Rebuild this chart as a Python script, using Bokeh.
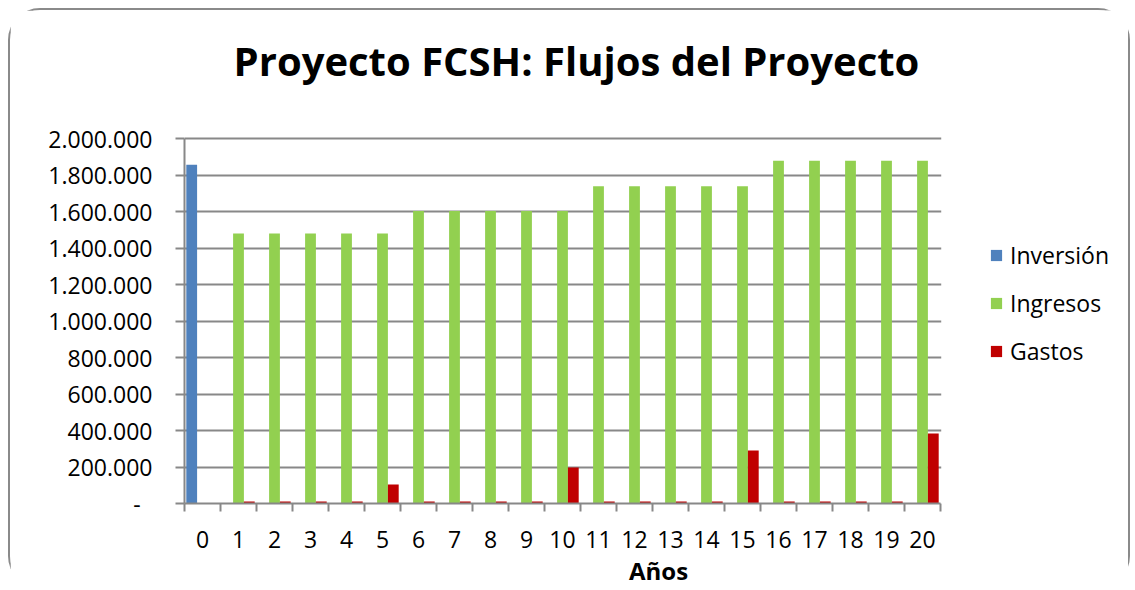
from bokeh.plotting import figure
from bokeh.models import (ColumnDataSource, FixedTicker, Legend, LegendItem, Range1d,
                          BoxAnnotation, Label)
from bokeh.transform import dodge
from bokeh.embed import file_html
from bokeh.resources import INLINE

# ---- data ----
years = list(range(21))
year_labels = [str(y) for y in years]
inversion = [1856000] + [0] * 20
ingresos = [0] + [1479000] * 5 + [1603000] * 5 + [1738000] * 5 + [1878000] * 5
gastos = [0, 10800, 10800, 10800, 10800, 104000,
          10800, 10800, 10800, 10800, 197000,
          10800, 10800, 10800, 10800, 290000,
          10800, 10800, 10800, 10800, 383000]
series_names = ["Inversión", "Ingresos", "Gastos"]
series_colors = ["#4f81bd", "#92d050", "#c00000"]
y_ticks = [0, 200000, 400000, 600000, 800000, 1000000, 1200000,
           1400000, 1600000, 1800000, 2000000]
y_tick_labels = ["-\u00a0\u00a0", "200.000", "400.000", "600.000", "800.000",
                 "1.000.000", "1.200.000", "1.400.000", "1.600.000",
                 "1.800.000", "2.000.000"]
title_text = "Proyecto FCSH: Flujos del Proyecto"
x_title = "Años"

src = ColumnDataSource(dict(year=years, inv=inversion, ing=ingresos, gas=gastos))

FONT = "Open Sans"
GRID = "#888888"

W, H = 1122, 580
LEFT, RIGHT_AREA, TOP_AREA, BOTTOM = 174, 192, 128, 87
y_lo, y_hi = 0, 2000000
x_lo = years[0] - 0.5
x_hi = years[-1] + 0.5
# the frame is extended to the canvas right / top edges so that the legend
# and title can live inside it; data occupy only the plot-area part
frame_w = W - LEFT
frame_h = H - BOTTOM
x_view_hi = x_lo + (x_hi - x_lo) * frame_w / (frame_w - RIGHT_AREA)
y_view_hi = y_lo + (y_hi - y_lo) * frame_h / (frame_h - TOP_AREA)

p = figure(width=W, height=H, output_backend="svg", toolbar_location=None,
           title=None,
           x_range=Range1d(x_lo, x_view_hi), y_range=Range1d(y_lo, y_view_hi),
           min_border_left=LEFT, min_border_right=0,
           min_border_top=0, min_border_bottom=BOTTOM)
p.styles = {"margin-left": "8px", "margin-top": "8px",
            "border-top": "2px solid #8a8a8a", "border-left": "2px solid #8a8a8a",
            "border-right": "2px solid #8a8a8a", "border-radius": "32px"}
p.outline_line_color = None
p.background_fill_color = "white"
p.border_fill_color = "white"

width = 0.3
r_inv = p.vbar(x=dodge("year", -0.3, range=p.x_range), top="inv", width=width,
               source=src, fill_color=series_colors[0], line_color=None)
r_ing = p.vbar(x=dodge("year", 0.0, range=p.x_range), top="ing", width=width,
               source=src, fill_color=series_colors[1], line_color=None)
r_gas = p.vbar(x=dodge("year", 0.3, range=p.x_range), top="gas", width=width,
               source=src, fill_color=series_colors[2], line_color=None)

# x axis
xa = p.xaxis[0]
xa.bounds = (x_lo, x_hi)
xa.ticker = FixedTicker(ticks=years, minor_ticks=[y - 0.5 for y in years] + [x_hi])
xa.major_label_overrides = {y: l for y, l in zip(years, year_labels)}
xa.major_tick_out = 0
xa.major_tick_in = 0
xa.minor_tick_out = 8
xa.minor_tick_in = 0
xa.minor_tick_line_color = GRID
xa.minor_tick_line_width = 2
xa.axis_line_color = GRID
xa.axis_line_width = 2
xa.major_label_text_font = FONT
xa.major_label_text_font_size = "23px"
xa.major_label_text_color = "black"
xa.major_label_standoff = 19
xa.axis_label = x_title
xa.axis_label_text_font = FONT
xa.axis_label_text_font_size = "24px"
xa.axis_label_text_font_style = "bold"
xa.axis_label_text_color = "black"
xa.axis_label_standoff = 3

# y axis
ya = p.yaxis[0]
ya.bounds = (y_lo, y_hi)
ya.ticker = FixedTicker(ticks=y_ticks, minor_ticks=[])
ya.major_label_overrides = {t: l for t, l in zip(y_ticks, y_tick_labels)}
ya.major_tick_out = 9
ya.major_tick_in = 0
ya.major_tick_line_color = GRID
ya.major_tick_line_width = 2
ya.minor_tick_line_color = None
ya.axis_line_color = GRID
ya.axis_line_width = 2
ya.major_label_text_font = FONT
ya.major_label_text_font_size = "23px"
ya.major_label_text_color = "black"
ya.major_label_standoff = 23

p.xgrid.grid_line_color = None
p.ygrid.grid_line_color = GRID
p.ygrid.grid_line_width = 2
p.ygrid.ticker = FixedTicker(ticks=y_ticks)

# hide gridlines to the right of the plot area (legend region)
p.add_layout(BoxAnnotation(left=x_hi + 0.02, fill_color="white", fill_alpha=1.0,
                           line_color=None))

# chart title (screen units relative to the frame: x from left, y from bottom)
p.add_layout(Label(x=392, y=443, x_units="screen", y_units="screen",
                   text=title_text, text_font=FONT, text_font_size="40px",
                   text_font_style="bold", text_color="black",
                   text_align="center", text_baseline="alphabetic"))

legend = Legend(items=[LegendItem(label=series_names[0], renderers=[r_inv]),
                       LegendItem(label=series_names[1], renderers=[r_ing]),
                       LegendItem(label=series_names[2], renderers=[r_gas])],
                location=(805, 136), orientation="vertical")
legend.glyph_width = 14
legend.glyph_height = 14
legend.label_height = 26
legend.label_standoff = 7
legend.label_text_font = FONT
legend.label_text_font_size = "23px"
legend.label_text_color = "black"
legend.spacing = 16
legend.padding = 0
legend.margin = 0
legend.border_line_color = None
legend.background_fill_alpha = 0
p.add_layout(legend, "center")

open("out.html", "w").write(file_html(p, INLINE))
